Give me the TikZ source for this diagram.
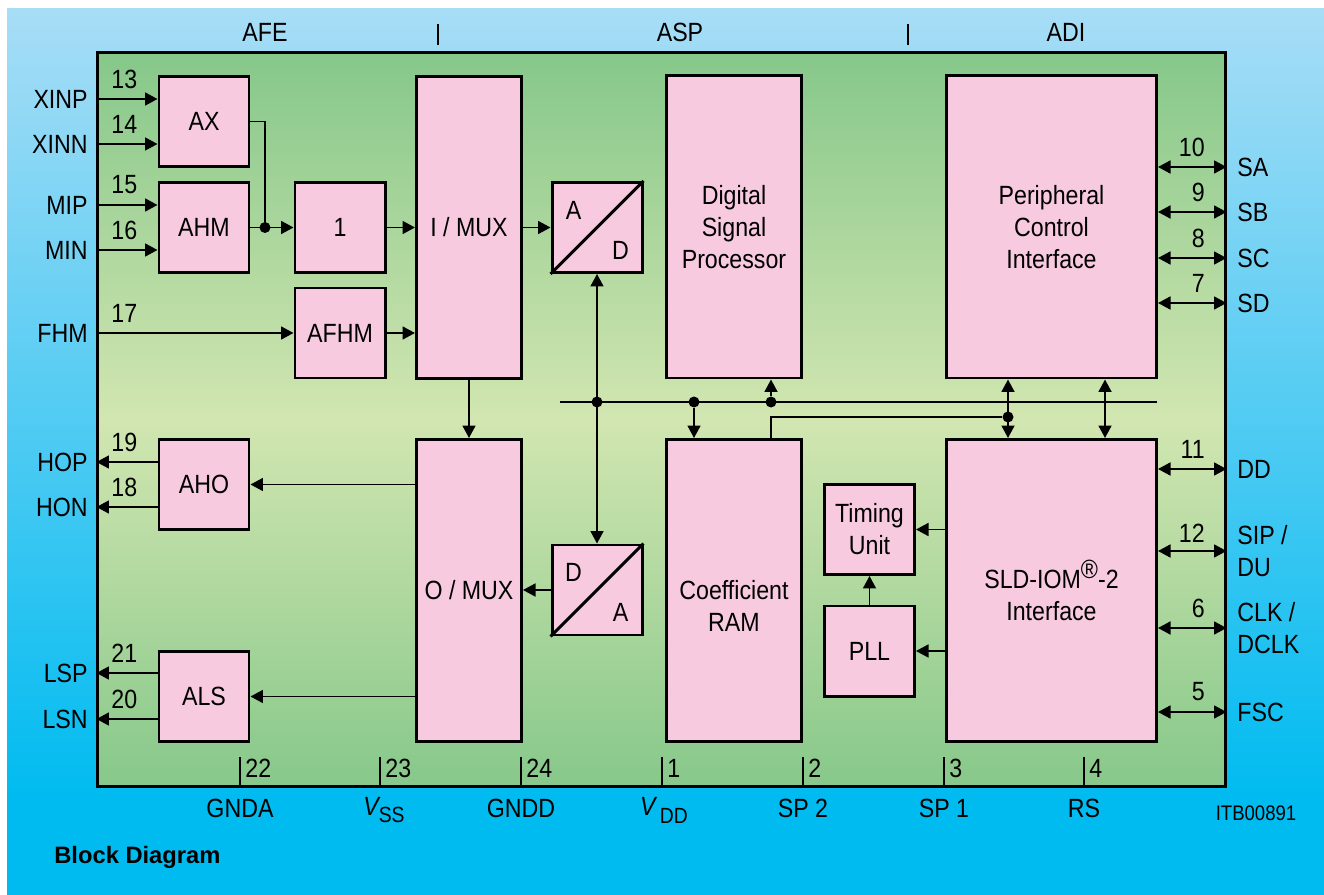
\documentclass[tikz,border=0pt]{standalone}
\usepackage{fontspec}
\setmainfont{Liberation Sans}[FakeStretch=0.88]
\newfontfamily\titlefont{Liberation Sans}
\usetikzlibrary{arrows.meta, calc}
\usepackage{xcolor}
\definecolor{blkpink}{HTML}{F8CADF}
\definecolor{grtop}{HTML}{86C78A}
\definecolor{grmid}{HTML}{D2E6B1}
\definecolor{grbot}{HTML}{87C88A}
\definecolor{bgtop}{HTML}{A8DDF6}
\definecolor{bgbot}{HTML}{00BBF0}

\begin{document}
\begin{tikzpicture}[x=0.2mm, y=-0.2mm,
  txt/.style={font=\fontsize{15}{18.2}\selectfont, inner sep=0pt},
  blk/.style={txt, draw, line width=1.7pt, fill=blkpink, align=center},
  sq/.style={blk, minimum width=18mm, minimum height=18mm},
  mux/.style={blk, minimum width=21mm, minimum height=60.4mm},
  big/.style={blk, minimum width=27mm, minimum height=60.4mm},
  wide/.style={blk, minimum width=42mm, minimum height=60.4mm},
  wire/.style={line width=1pt},
  arr/.style={wire, -{Triangle[length=2.5mm, width=2.6mm]}},
  dbl/.style={wire, {Triangle[length=2.5mm, width=2.6mm]}-{Triangle[length=2.5mm, width=2.6mm]}},
  tick/.style={line width=0.9pt},
  dot/.style={circle, fill, inner sep=0pt, minimum size=2.2mm}]
% background and chip frame
\useasboundingbox (0,0) rectangle (1324,895);
\shade[top color=bgtop, bottom color=bgbot] (7,9) rectangle (1324,800);
\fill[bgbot] (7,799) rectangle (1324,895);
\node[draw, line width=1.7pt, inner sep=0pt, minimum width=225.4mm, minimum height=146.6mm,
  top color=grtop, bottom color=grbot, middle color=grmid] (chip) at (661.5,419.5) {};
\node[txt] (afe) at (265,32) {AFE};
\node[txt] (asp) at (680,32) {ASP};
\node[txt] (adi) at (1066,32) {ADI};
\draw[tick] (438,24) -- (438,45);
\draw[tick] (908,24) -- (908,45);
% blocks
\node[sq] (ax) at (204,121.5) {AX};
\node[sq] (ahm) at (204,227.5) {AHM};
\node[sq] (one) at (340,227.5) {1};
\node[sq] (afhm) at (340,333) {AFHM};
\node[mux] (imux) at (469,227.5) {I / MUX};
\node[mux] (omux) at (469,590.5) {O / MUX};
\node[sq] (aho) at (204,484.5) {AHO};
\node[sq] (als) at (204,696.5) {ALS};
\node[sq] (ad) at (597,227.5) {};
\draw[line width=1.7pt] (ad.south west) -- (ad.north east);
\node[txt] (adA) at ($(ad.north west)+(23,29)$) {A};
\node[txt] (adD) at ($(ad.south east)+(-23,-24)$) {D};
\node[sq] (da) at (597,590) {};
\draw[line width=1.7pt] (da.south west) -- (da.north east);
\node[txt] (daD) at ($(da.north west)+(23,29)$) {D};
\node[txt] (daA) at ($(da.south east)+(-23,-24)$) {A};
\node[big] (dsp) at (734,227) {Digital\\Signal\\Processor};
\node[big] (ram) at (734,590.5) {};
\node[txt, align=center] (ramtxt) at (734,606) {Coefficient\\RAM};
\node[wide] (pci) at (1051.5,227) {Peripheral\\Control\\Interface};
\node[wide] (sld) at (1051.5,590.5) {SLD-IOM\raisebox{0.38em}{®}-2\\Interface};
\node[sq] (tim) at (869.5,529.5) {Timing\\Unit};
\node[sq] (pll) at (869.5,651) {PLL};
% internal connections
\node[dot] (jx) at (265,227.5) {};
\draw[wire] (ax.east) -| (jx);
\draw[arr] (ahm) -- (one);
\draw[arr] (one) -- (imux);
\draw[arr] (afhm.east) -- (afhm.east -| imux.west);
\draw[arr] (imux.east |- ad.west) -- (ad.west);
\draw[arr] (imux.south) -- (omux.north);
\draw[arr] (omux.west |- aho.east) -- (aho.east);
\draw[arr] (omux.west |- als.east) -- (als.east);
\draw[arr] (da.west) -- (da.west -| omux.east);
\draw[arr] (sld.west |- tim.east) -- (tim.east);
\draw[arr] (sld.west |- pll.east) -- (pll.east);
\draw[arr] (pll) -- (tim);
% bus
\coordinate (busl) at (560,402);
\coordinate (busr) at (1157,402);
\coordinate (kb) at (1105,402);
\node[dot] (jad) at (597,402) {};
\node[dot] (jram) at (694,402) {};
\node[dot] (jdsp) at (771,402) {};
\node[dot] (jsld) at (1008,417) {};
\draw[wire] (busl) -- (busr);
\draw[dbl] (ad.south) -- (da.north);
\draw[arr] (jram) -- (jram |- ram.north);
\draw[arr] (jdsp) -- (jdsp |- dsp.south);
\draw[wire] (ram.north -| jdsp) |- (jsld);
\draw[dbl] (pci.south -| jsld) -- (sld.north -| jsld);
\draw[dbl] (pci.south -| kb) -- (sld.north -| kb);
% left pins
\node[txt, anchor=east] (xinp) at (88,99) {XINP};
\node[txt, anchor=east] (xinn) at (88,144) {XINN};
\node[txt, anchor=east] (mip) at (88,205) {MIP};
\node[txt, anchor=east] (min) at (88,250) {MIN};
\node[txt, anchor=east] (fhm) at (88,333) {FHM};
\node[txt, anchor=east] (hop) at (88,462) {HOP};
\node[txt, anchor=east] (hon) at (88,507) {HON};
\node[txt, anchor=east] (lsp) at (88,673) {LSP};
\node[txt, anchor=east] (lsn) at (88,719) {LSN};
\draw[arr] (xinp.east -| chip.west) -- (xinp.east -| ax.west);
\draw[arr] (xinn.east -| chip.west) -- (xinn.east -| ax.west);
\draw[arr] (mip.east -| chip.west) -- (mip.east -| ahm.west);
\draw[arr] (min.east -| chip.west) -- (min.east -| ahm.west);
\draw[arr] (fhm.east -| chip.west) -- (fhm.east -| afhm.west);
\draw[arr] (hop.east -| aho.west) -- (hop.east -| chip.west);
\draw[arr] (hon.east -| aho.west) -- (hon.east -| chip.west);
\draw[arr] (lsp.east -| als.west) -- (lsp.east -| chip.west);
\draw[arr] (lsn.east -| als.west) -- (lsn.east -| chip.west);
\node[txt, anchor=west] (n13) at (111,79) {13};
\node[txt, anchor=west] (n14) at (111,124) {14};
\node[txt, anchor=west] (n15) at (111,185) {15};
\node[txt, anchor=west] (n16) at (111,230) {16};
\node[txt, anchor=west] (n17) at (111,313) {17};
\node[txt, anchor=west] (n19) at (111,442) {19};
\node[txt, anchor=west] (n18) at (111,487) {18};
\node[txt, anchor=west] (n21) at (111,653) {21};
\node[txt, anchor=west] (n20) at (111,699) {20};
% right pins
\node[txt, anchor=west] (sa) at (1237,167) {SA};
\node[txt, anchor=west] (sb) at (1237,212) {SB};
\node[txt, anchor=west] (sc) at (1237,258) {SC};
\node[txt, anchor=west] (sd) at (1237,303) {SD};
\node[txt, anchor=west] (dd) at (1237,469) {DD};
\node[txt, anchor=west, align=left] (sip) at (1237,551) {SIP /\\DU};
\node[txt, anchor=west, align=left] (clk) at (1237,628) {CLK /\\DCLK};
\node[txt, anchor=west] (fsc) at (1237,712) {FSC};
\draw[dbl] (sa.west -| pci.east) -- (sa.west -| chip.east);
\draw[dbl] (sb.west -| pci.east) -- (sb.west -| chip.east);
\draw[dbl] (sc.west -| pci.east) -- (sc.west -| chip.east);
\draw[dbl] (sd.west -| pci.east) -- (sd.west -| chip.east);
\draw[dbl] (dd.west -| sld.east) -- (dd.west -| chip.east);
\draw[dbl] (sip.west -| sld.east) -- (sip.west -| chip.east);
\draw[dbl] (clk.west -| sld.east) -- (clk.west -| chip.east);
\draw[dbl] (fsc.west -| sld.east) -- (fsc.west -| chip.east);
\node[txt, anchor=east] (n10) at (1205,147) {10};
\node[txt, anchor=east] (n9) at (1205,192) {9};
\node[txt, anchor=east] (n8) at (1205,238) {8};
\node[txt, anchor=east] (n7) at (1205,283) {7};
\node[txt, anchor=east] (n11) at (1205,449) {11};
\node[txt, anchor=east] (n12) at (1205,533) {12};
\node[txt, anchor=east] (n6) at (1205,608) {6};
\node[txt, anchor=east] (n5) at (1205,692) {5};
% bottom pins
\draw[tick] (240,757) -- (240,786);
\draw[tick] (380,757) -- (380,786);
\draw[tick] (521,757) -- (521,786);
\draw[tick] (662,757) -- (662,786);
\draw[tick] (803,757) -- (803,786);
\draw[tick] (944,757) -- (944,786);
\draw[tick] (1084,757) -- (1084,786);
\node[txt, anchor=west] (n22) at (245,768) {22};
\node[txt, anchor=west] (n23) at (385,768) {23};
\node[txt, anchor=west] (n24) at (526,768) {24};
\node[txt, anchor=west] (n1) at (667,768) {1};
\node[txt, anchor=west] (n2) at (808,768) {2};
\node[txt, anchor=west] (n3) at (949,768) {3};
\node[txt, anchor=west] (n4) at (1089,768) {4};
\node[txt] (gnda) at (240,808) {GNDA};
\node[txt] (vss) at (384,810) {\itshape V\upshape\raisebox{-0.3em}{\fontsize{12.5}{13}\selectfont SS}};
\node[txt] (gndd) at (521,808) {GNDD};
\node[txt] (vdd) at (664,810) {\itshape V\upshape\,\raisebox{-0.3em}{\fontsize{12.5}{13}\selectfont DD}};
\node[txt] (sp2) at (803,808) {SP 2};
\node[txt] (sp1) at (944,808) {SP 1};
\node[txt] (rs) at (1084,808) {RS};
\node[txt, font=\fontsize{12}{14}\selectfont] (itb) at (1256,813) {ITB00891};
\node[anchor=west, inner sep=0pt, font=\titlefont\bfseries\fontsize{13.5}{15}\selectfont] (title) at (54,857) {Block Diagram};
\end{tikzpicture}
\end{document}
